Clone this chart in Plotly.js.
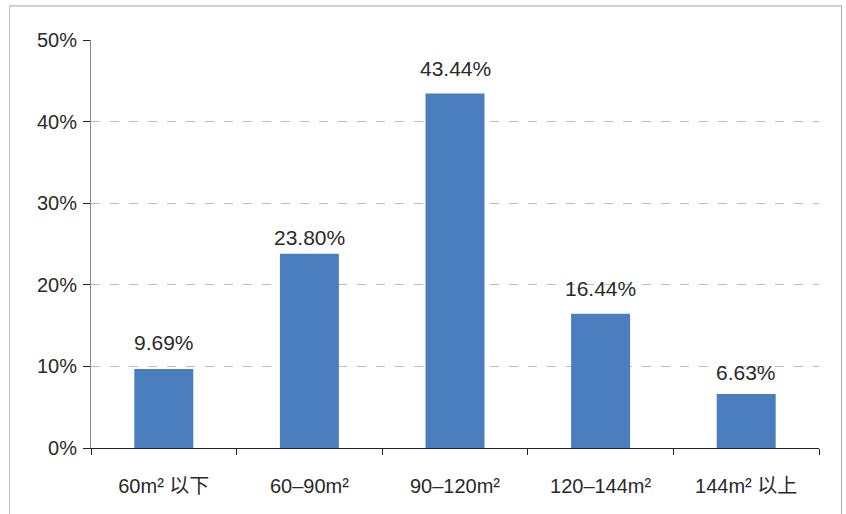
<!DOCTYPE html>
<html>
<head>
<meta charset="utf-8">
<script src="https://cdn.plot.ly/plotly-3.0.1.min.js"></script>
<style>
  html, body { margin: 0; padding: 0; background: #fff; }
  #wrap { position: relative; width: 846px; height: 514px; }
  #chart { width: 846px; height: 514px; }
  #frame { position: absolute; left: 9px; top: 5px; width: 833px; height: 520px;
           border-left: 1px solid #c4c4c4; border-top: 2px solid #d0d0d0; border-right: 1px solid #a8a8a8;
           pointer-events: none; box-sizing: border-box; }
</style>
</head>
<body>
<div id="wrap">
  <div id="chart"></div>
  <div id="frame"></div>
</div>
<script>
const categories = ["60m² 以下", "60–90m²", "90–120m²", "120–144m²", "144m² 以上"];
const shares = [9.69, 23.80, 43.44, 16.44, 6.63];
const shareLabels = ["9.69%", "23.80%", "43.44%", "16.44%", "6.63%"];
const yTicks = [0, 10, 20, 30, 40, 50];

const FONT = '"Liberation Sans", Arial, "Noto Sans CJK SC", sans-serif';
// label offsets above bar tops (pixels), matching the reference placement
const LABEL_LIFT = [12.5, 2.5, 11.5, 11.5, 8];

const trace = {
  type: 'bar',
  x: categories,
  y: shares,
  marker: { color: '#4a7ebf', line: { width: 0 } },
  width: 0.405,
  hoverinfo: 'skip'
};

const annotations = categories.map((c, i) => ({
  x: c, y: shares[i], xref: 'x', yref: 'y',
  text: shareLabels[i], showarrow: false,
  yanchor: 'bottom', xanchor: 'center', yshift: LABEL_LIFT[i],
  font: { family: FONT, size: 21, color: '#2a2a2a' }
}));

const layout = {
  width: 846, height: 514,
  margin: { l: 91, r: 27, t: 40, b: 66, pad: 0 },
  paper_bgcolor: '#ffffff', plot_bgcolor: '#ffffff',
  showlegend: false,
  font: { family: FONT, color: '#2a2a2a' },
  xaxis: {
    type: 'category',
    tickson: 'boundaries',
    ticks: 'outside', ticklen: 6, tickwidth: 1, tickcolor: '#222',
    showline: true, linecolor: '#222', linewidth: 1,
    showgrid: false, zeroline: false,
    tickfont: { family: FONT, size: 20, color: '#2a2a2a' },
    ticklabelstandoff: 20,
    fixedrange: true
  },
  yaxis: {
    range: [0, 50],
    tickvals: yTicks,
    ticktext: yTicks.map(v => v + '%'),
    ticks: 'outside', ticklen: 7, tickwidth: 1, tickcolor: '#222',
    showline: true, linecolor: '#8a8a8a', linewidth: 1,
    showgrid: true, gridcolor: '#bdbdbd', gridwidth: 1, griddash: '9px,10px',
    zeroline: false,
    tickfont: { family: FONT, size: 20, color: '#2a2a2a' },
    ticklabelstandoff: 2,
    fixedrange: true
  },
  annotations: annotations
};

Plotly.newPlot('chart', [trace], layout, { displayModeBar: false, staticPlot: true });
</script>
</body>
</html>
